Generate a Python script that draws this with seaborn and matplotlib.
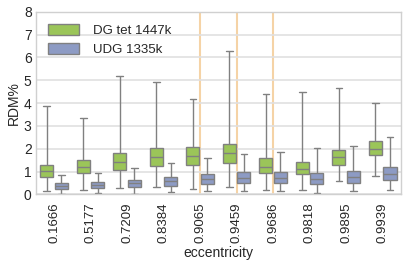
import numpy as np
import pandas as pd
import matplotlib
matplotlib.use("Agg")
import matplotlib.pyplot as plt
import seaborn as sns

categories = ["0.1666", "0.5177", "0.7209", "0.8384", "0.9065",
              "0.9459", "0.9686", "0.9818", "0.9895", "0.9939"]
series = ["DG tet 1447k", "UDG 1335k"]

# five-number summaries: min, q1, median, q3, max
dg_min = [0.16, 0.20, 0.29, 0.32, 0.25, 0.32, 0.20, 0.20, 0.60, 0.80]
dg_q1  = [0.76, 0.95, 1.05, 1.25, 1.27, 1.38, 0.95, 0.89, 1.31, 1.72]
dg_med = [1.02, 1.22, 1.44, 1.65, 1.69, 1.82, 1.22, 1.12, 1.62, 2.01]
dg_q3  = [1.30, 1.50, 1.80, 2.05, 2.08, 2.21, 1.60, 1.41, 1.93, 2.34]
dg_max = [3.86, 3.35, 5.18, 4.92, 4.16, 6.28, 4.38, 4.47, 4.64, 4.00]

udg_min = [0.03, 0.07, 0.04, 0.09, 0.13, 0.14, 0.17, 0.07, 0.13, 0.19]
udg_q1  = [0.23, 0.28, 0.34, 0.38, 0.45, 0.49, 0.51, 0.45, 0.52, 0.64]
udg_med = [0.36, 0.42, 0.49, 0.57, 0.66, 0.73, 0.74, 0.66, 0.77, 0.90]
udg_q3  = [0.49, 0.54, 0.64, 0.77, 0.89, 0.97, 0.99, 0.95, 1.03, 1.22]
udg_max = [0.83, 0.95, 1.15, 1.38, 1.59, 1.76, 1.88, 2.02, 2.11, 2.52]

marked = ["0.9065", "0.9459", "0.9686"]

rows = []
for name, stats in [(series[0], (dg_min, dg_q1, dg_med, dg_q3, dg_max)),
                    (series[1], (udg_min, udg_q1, udg_med, udg_q3, udg_max))]:
    for i, c in enumerate(categories):
        for arr in stats:
            rows.append({"eccentricity": c, "series": name, "RDM%": arr[i]})
df = pd.DataFrame(rows)

sns.set_style("whitegrid")
plt.rcParams['font.family'] = ['Liberation Sans', 'DejaVu Sans']

fig, ax = plt.subplots(figsize=(4.07, 2.61), dpi=100)

edge = "#808080"
sns.boxplot(data=df, x="eccentricity", y="RDM%", hue="series",
            order=categories, hue_order=series,
            palette=["#9bc559", "#8d9bc4"], saturation=1, whis=(0, 100),
            width=0.8, gap=0.1, linewidth=1.0, linecolor=edge,
            fliersize=0, ax=ax)

for c in marked:
    ax.axvline(categories.index(c), color="#f5d3a6", lw=1.5, zorder=0.5)

ax.set_ylim(0, 8)
ax.set_xlim(-0.5, len(categories) - 0.5)
ax.set_yticks(range(0, 9))
ax.grid(axis="x", visible=False)
ax.grid(axis="y", color="#e0e0e0", lw=1.2)
for s in ax.spines.values():
    s.set_color("#d0d0d0")
    s.set_linewidth(1.0)
ax.tick_params(axis="x", rotation=90, labelsize=9.5, length=0, pad=6)
ax.tick_params(axis="y", labelsize=10, length=0, pad=3)
ax.set_xlabel("eccentricity", fontsize=10, labelpad=2)
ax.set_ylabel("RDM%", fontsize=10, labelpad=2)

leg = ax.legend(loc="upper left", frameon=False, fontsize=9.5,
                handlelength=2.4, handleheight=0.9, borderaxespad=0.5,
                borderpad=0.4, labelspacing=0.5, handletextpad=1.0)

fig.subplots_adjust(left=0.088, right=0.985, top=0.955, bottom=0.255)
fig.savefig("out.png", dpi=100)
